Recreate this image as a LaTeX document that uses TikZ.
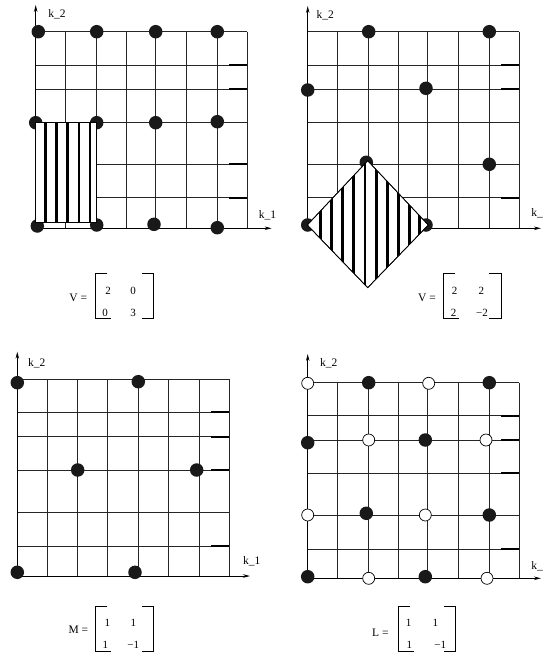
\documentclass[tikz,border=0pt]{standalone}
\usepackage{fontspec}
\setmainfont{Liberation Serif}
\usetikzlibrary{arrows.meta}
\begin{document}
\begin{tikzpicture}[x=1pt,y=-1pt,
  gridline/.style={line width=0.8pt, black!85},
  ticksty/.style={line width=1.9pt},
  axis/.style={line width=0.9pt,-{Stealth[length=7pt,width=3.5pt]}},
  fdot/.style={circle,fill=black!90,inner sep=0pt,minimum size=13.5pt},
  odot/.style={circle,draw=black,line width=0.7pt,fill=white,inner sep=0pt,minimum size=12pt},
  lbl/.style={font=\fontsize{11.5}{13}\selectfont,inner sep=0pt},
  ent/.style={font=\fontsize{11}{13}\selectfont,inner sep=0pt},
  brk/.style={line width=0.9pt},
  hatch/.style={line width=2.6pt},
  hshape/.style={draw,line width=0.7pt,fill=white}]
\useasboundingbox[fill=white] (0,0) rectangle (544,656);

% ---------------- Panel 1 ----------------
\foreach \x in {35.7,65.7,96.7,126,155.7,186.7,217.3,247.3}
  \draw[gridline] (\x,31.7) -- (\x,228.3);
\foreach \y in {31.7,65,89.3,122.7,164.3,197.7,228.3}
  \draw[gridline] (35.7,\y) -- (247.3,\y);
\foreach \y in {65,89.3,164.3,197.7}
  \draw[ticksty] (229,\y) -- (247.3,\y);
\coordinate (o1) at (35.7,228.3);
\coordinate (y1) at (35.7,5);
\coordinate (x1) at (271.7,228.3);
\draw[axis] (o1) -- (y1);
\draw[axis] (o1) -- (x1);
\node[lbl] (k21) at (57,14) {k\_2};
\node[lbl] (k11) at (267.5,215) {k\_1};
\node[fdot] (a1) at (38.3,31.7) {};
\node[fdot] (a2) at (96.7,31.7) {};
\node[fdot] (a3) at (155.7,31.7) {};
\node[fdot] (a4) at (217.3,31.7) {};
\node[fdot] (a5) at (35.7,122.7) {};
\node[fdot] (a6) at (96.7,122.7) {};
\node[fdot] (a7) at (155.7,122.7) {};
\node[fdot] (a8) at (217.3,121.7) {};
\node[fdot] (a9) at (37.3,226) {};
\node[fdot] (a10) at (96.7,225) {};
\node[fdot] (a11) at (154,224.3) {};
\node[fdot] (a12) at (217.3,227.7) {};
\draw[hshape] (35.7,122.7) rectangle (96.7,222.7);
\foreach \x in {45.7,56.7,67.7,79,90}
  \draw[hatch] (\x,122.7) -- (\x,222.7);
% matrix V
\node[lbl] (v1) at (78.3,298.3) {V =};
\draw[brk] (107.3,273.3) -- (95.7,273.3) -- (95.7,318.3) -- (111,318.3);
\draw[brk] (141.7,273.3) -- (153.3,273.3) -- (153.3,318.3) -- (141.7,318.3);
\node[ent] (v1a) at (108,291) {2};
\node[ent] (v1b) at (133,291) {0};
\node[ent] (v1c) at (105,312.5) {0};
\node[ent] (v1d) at (133,312.5) {3};

% ---------------- Panel 2 ----------------
\foreach \x in {307.7,337.7,368.7,398,427.7,458.7,489.3,519.3}
  \draw[gridline] (\x,31.7) -- (\x,228.3);
\foreach \y in {31.7,65,89.3,122.7,164.3,197.7,228.3}
  \draw[gridline] (307.7,\y) -- (519.3,\y);
\foreach \y in {65,89.3,197.7}
  \draw[ticksty] (501,\y) -- (519.3,\y);
\coordinate (o2) at (307.7,228.3);
\coordinate (y2) at (307.7,6);
\coordinate (x2) at (541,228.3);
\draw[axis] (o2) -- (y2);
\draw[axis] (o2) -- (x2);
\node[lbl] (k22) at (325.3,15) {k\_2};
\node[lbl,anchor=east] (k12) at (543,213.3) {k\_};
\node[fdot] (b1) at (368.7,31.7) {};
\node[fdot] (b2) at (489.3,31.7) {};
\node[fdot] (b3) at (307.7,90) {};
\node[fdot] (b4) at (426,88.3) {};
\node[fdot] (b5) at (366.3,162.3) {};
\node[fdot] (b6) at (489.3,164.3) {};
\node[fdot] (b7) at (307.7,225) {};
\node[fdot] (b8) at (426,225) {};
\draw[hshape] (307.3,225) -- (367.7,160.7) -- (428.3,225) -- (367.7,287.7) -- cycle;
\begin{scope}
  \clip (307.3,225) -- (367.7,160.7) -- (428.3,225) -- (367.7,287.7) -- cycle;
  \foreach \x in {320.7,331.7,342.7,353.3,365,376.7,387.7,398.3,409.3,419.3}
    \draw[hatch] (\x,150) -- (\x,300);
\end{scope}
\draw[line width=0.7pt] (307.3,225) -- (367.7,160.7) -- (428.3,225) -- (367.7,287.7) -- cycle;
% matrix V
\node[lbl] (v2) at (427,298.3) {V =};
\draw[brk] (454.7,273.3) -- (443.7,273.3) -- (443.7,318.3) -- (458.7,318.3);
\draw[brk] (489.3,273.3) -- (501.3,273.3) -- (501.3,318.3) -- (489.3,318.3);
\node[ent] (v2a) at (454.7,291) {2};
\node[ent] (v2b) at (481.3,291) {2};
\node[ent] (v2c) at (453.7,312.5) {2};
\node[ent] (v2d) at (482,312.5) {−2};

% ---------------- Panel 3 ----------------
\foreach \x in {17.3,47.3,77.7,107.7,138.3,168.3,199,229}
  \draw[gridline] (\x,379.3) -- (\x,576);
\foreach \y in {379.3,412.3,436.7,470,512.7,546,576}
  \draw[gridline] (17.3,\y) -- (229,\y);
\foreach \y in {412.3,436.7,470,546}
  \draw[ticksty] (211,\y) -- (229,\y);
\coordinate (o3) at (17.3,576);
\coordinate (y3) at (17.3,351.7);
\coordinate (x3) at (250,576);
\draw[axis] (o3) -- (y3);
\draw[axis] (o3) -- (x3);
\node[lbl] (k23) at (36.7,363.3) {k\_2};
\node[lbl] (k13) at (251.7,561.7) {k\_1};
\node[fdot] (c1) at (17.3,382.7) {};
\node[fdot] (c2) at (138.3,381.7) {};
\node[fdot] (c3) at (77.7,470) {};
\node[fdot] (c4) at (196.7,470) {};
\node[fdot] (c5) at (17.3,572.3) {};
\node[fdot] (c6) at (135,572.3) {};
% matrix M
\node[lbl] (m3) at (78.3,629.3) {M =};
\draw[brk] (107.3,606) -- (95.7,606) -- (95.7,651) -- (111,651);
\draw[brk] (141.7,606) -- (153.3,606) -- (153.3,651) -- (141.7,651);
\node[ent] (m3a) at (107.3,622.7) {1};
\node[ent] (m3b) at (133.3,622.7) {1};
\node[ent] (m3c) at (105.3,644.5) {1};
\node[ent] (m3d) at (133.3,644.5) {−1};

% ---------------- Panel 4 ----------------
\foreach \x in {307.7,337.7,368.7,398,427.7,458.7,489.3,519.3}
  \draw[gridline] (\x,382.7) -- (\x,578.3);
\foreach \y in {382.7,415.7,440,473.3,515,549,578.3}
  \draw[gridline] (307.7,\y) -- (519.3,\y);
\foreach \y in {415.7,440,473.3,549}
  \draw[ticksty] (501,\y) -- (519.3,\y);
\coordinate (o4) at (307.7,578.3);
\coordinate (y4) at (307.7,354);
\coordinate (x4) at (541,578.3);
\draw[axis] (o4) -- (y4);
\draw[axis] (o4) -- (x4);
\node[lbl] (k24) at (328.7,363.3) {k\_2};
\node[lbl,anchor=east] (k14) at (543,566.7) {k\_};
\node[fdot] (d1) at (368.7,382.7) {};
\node[fdot] (d2) at (489.3,382.7) {};
\node[fdot] (d3) at (307.7,442.7) {};
\node[fdot] (d4) at (425.3,440) {};
\node[fdot] (d5) at (366.3,513.3) {};
\node[fdot] (d6) at (489.3,515) {};
\node[fdot] (d7) at (307.7,576.7) {};
\node[fdot] (d8) at (425.3,576.7) {};
\node[odot] (e1) at (307.7,383.3) {};
\node[odot] (e2) at (428.7,383.3) {};
\node[odot] (e3) at (368.7,440) {};
\node[odot] (e4) at (486,440) {};
\node[odot] (e5) at (307.7,515) {};
\node[odot] (e6) at (425.3,515) {};
\node[odot] (e7) at (368.7,578.3) {};
\node[odot] (e8) at (487,578.3) {};
% matrix L
\node[lbl] (l4) at (380.3,632.7) {L =};
\draw[brk] (410.3,606) -- (398.7,606) -- (398.7,651) -- (413.7,651);
\draw[brk] (443.7,606) -- (455.3,606) -- (455.3,651) -- (443.7,651);
\node[ent] (l4a) at (408.7,622.7) {1};
\node[ent] (l4b) at (435.3,622.7) {1};
\node[ent] (l4c) at (409.3,644.5) {1};
\node[ent] (l4d) at (440.3,644.5) {−1};
\end{tikzpicture}
\end{document}
